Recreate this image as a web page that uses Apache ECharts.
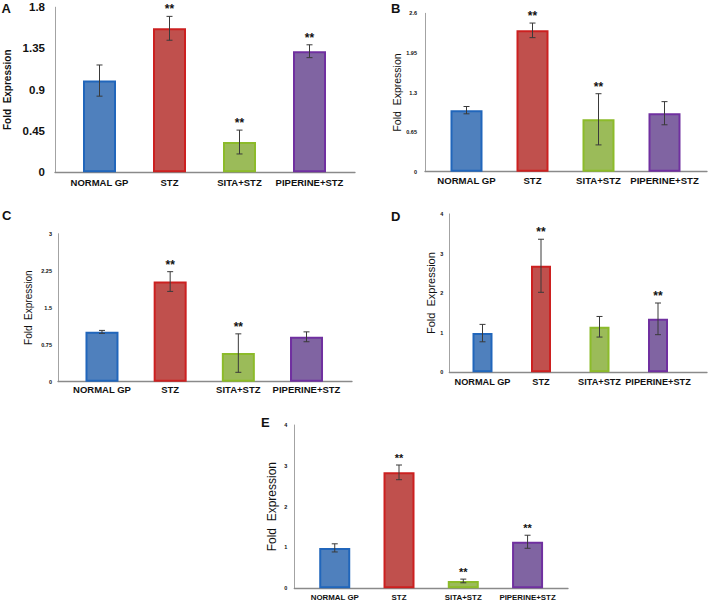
<!DOCTYPE html>
<html>
<head>
<meta charset="utf-8">
<script src="https://cdn.jsdelivr.net/npm/echarts/dist/echarts.min.js"></script>
<style>
html,body{margin:0;padding:0;background:#fff;}
#chart{width:708px;height:603px;}
</style>
</head>
<body>
<div id="chart"></div>
<script>
// ---------- DATA ----------
const categories = ['NORMAL GP', 'STZ', 'SITA+STZ', 'PIPERINE+STZ'];

const valuesA = [1.00, 1.57, 0.33, 1.32];
const errorsA = [0.17, 0.13, 0.13, 0.07];
const sigA = ['', '**', '**', '**'];
const ticksA = [0, 0.45, 0.9, 1.35, 1.8];

const valuesB = [1.01, 2.32, 0.86, 0.96];
const errorsB = [0.06, 0.12, 0.42, 0.19];
const sigB = ['', '**', '**', ''];
const ticksB = [0, 0.65, 1.3, 1.95, 2.6];

const valuesC = [1.01, 2.03, 0.58, 0.91];
const errorsC = [0.03, 0.20, 0.39, 0.10];
const sigC = ['', '**', '**', ''];
const ticksC = [0, 0.75, 1.5, 2.25, 3];

const valuesD = [0.99, 2.69, 1.15, 1.35];
const errorsD = [0.22, 0.67, 0.26, 0.40];
const sigD = ['', '**', '', '**'];
const ticksD = [0, 1, 2, 3, 4];

const valuesE = [0.99, 2.84, 0.18, 1.14];
const errorsE = [0.10, 0.18, 0.045, 0.16];
const sigE = ['', '**', '**', '**'];
const ticksE = [0, 1, 2, 3, 4];

const axisName = 'Fold  Expression';

// ---------- STYLE / LAYOUT ----------
const fills = ['#4f80bd', '#c0504d', '#9bbb59', '#8064a2'];
const borders = ['#2166bb', '#cc2020', '#8cbb2a', '#7030a0'];
const narrow = "'Liberation Sans Narrow', 'Liberation Sans', Arial, sans-serif";
const sans = "'Liberation Sans', Arial, sans-serif";

const panels = [
  { title: 'A', values: valuesA, errors: errorsA, sig: sigA, ticks: ticksA,
    t: [1.5, 1.5], outer: [55, 355, 7.2, 172.3], inner: [64.5, 280], barW: 33,
    tickFont: 11.5, tickMargin: 10, catFont: 9.5, catMargin: 5, nameFont: 10, nameW: 'bold', nameGap: 43, starFont: 12 },
  { title: 'B', values: valuesB, errors: errorsB, sig: sigB, ticks: ticksB,
    t: [391, 2], outer: [425, 707, 13.3, 171.7], inner: [433.5, 264], barW: 32,
    tickFont: 5.5, tickMargin: 8, catFont: 9.6, catMargin: 4, nameFont: 10.5, nameW: 'normal', nameGap: 23, starFont: 12 },
  { title: 'C', values: valuesC, errors: errorsC, sig: sigC, ticks: ticksC,
    t: [2, 209], outer: [58, 352, 233.7, 381.7], inner: [67.9, 272.7], barW: 33,
    tickFont: 5.5, tickMargin: 6, catFont: 9.5, catMargin: 2.5, nameFont: 10, nameW: 'normal', nameGap: 25, starFont: 12 },
  { title: 'D', values: valuesD, errors: errorsD, sig: sigD, ticks: ticksD,
    t: [391, 210], outer: [449.3, 707, 213.9, 372.3], inner: [453.25, 234], barW: 20,
    tickFont: 5.5, tickMargin: 6, catFont: 9.2, catMargin: 5, nameFont: 11, nameW: 'normal', nameGap: 12, starFont: 12 },
  { title: 'E', values: valuesE, errors: errorsE, sig: sigE, ticks: ticksE,
    t: [261, 416], outer: [294.3, 568, 425, 588.3], inner: [302.6, 257.1], barW: 31,
    tickFont: 5.5, tickMargin: 7, catFont: 7.9, catMargin: 5, nameFont: 12, nameW: 'normal', nameGap: 16, starFont: 11 }
];

const option = { animation: false, backgroundColor: '#fff', title: [], grid: [], xAxis: [], yAxis: [], series: [] };

panels.forEach((p, idx) => {
  const go = idx * 2, gi = idx * 2 + 1;
  const [ol, or, ot, ob] = p.outer;
  const ymin = p.ticks[0], ymax = p.ticks[p.ticks.length - 1];
  const step = p.ticks[1] - p.ticks[0];

  option.title.push({
    text: p.title, left: p.t[0], top: p.t[1], padding: 0,
    textStyle: { fontFamily: sans, fontWeight: 'bold', fontSize: 13, color: '#111' }
  });

  option.grid.push({ left: ol, top: ot, width: or - ol, height: ob - ot, containLabel: false });
  option.grid.push({ left: p.inner[0], top: ot, width: p.inner[1], height: ob - ot, containLabel: false });

  option.xAxis.push({
    gridIndex: go, type: 'value', min: 0, max: 1,
    axisLine: { show: true, onZero: false, lineStyle: { color: '#8a8a8a', width: 1.3 } },
    axisTick: { show: false }, axisLabel: { show: false }, splitLine: { show: false }
  });
  option.xAxis.push({
    gridIndex: gi, type: 'category', data: categories,
    axisLine: { show: false }, axisTick: { show: false }, splitLine: { show: false },
    axisLabel: { interval: 0, margin: p.catMargin, color: '#111', fontFamily: narrow, fontWeight: 'bold', fontSize: p.catFont }
  });

  option.yAxis.push({
    gridIndex: go, type: 'value', min: ymin, max: ymax, interval: step,
    name: axisName, nameLocation: 'middle', nameGap: p.nameGap,
    nameTextStyle: { fontFamily: sans, fontSize: p.nameFont, fontWeight: p.nameW, color: '#111' },
    axisLine: { show: true, lineStyle: { color: '#a3a3a3', width: 1 } },
    axisTick: { show: false }, splitLine: { show: false },
    axisLabel: { margin: p.tickMargin, color: '#111', fontFamily: sans, fontWeight: 'bold', fontSize: p.tickFont }
  });
  option.yAxis.push({ gridIndex: gi, type: 'value', min: ymin, max: ymax, show: false, splitLine: { show: false } });

  option.series.push({
    type: 'bar', xAxisIndex: gi, yAxisIndex: gi, barWidth: p.barW,
    data: p.values.map((v, k) => ({ value: v, itemStyle: { color: fills[k], borderColor: borders[k], borderWidth: 2 } })),
    z: 2
  });

  const sig = p.sig, sf = p.starFont;
  option.series.push({
    type: 'custom', xAxisIndex: gi, yAxisIndex: gi, z: 5,
    data: p.values.map((v, k) => [k, v, p.errors[k]]),
    renderItem: function (params, api) {
      const i = api.value(0), v = api.value(1), e = api.value(2);
      const top = api.coord([i, v + e]);
      const bot = api.coord([i, v - e]);
      const x = top[0], cap = 3;
      const ls = { stroke: '#3a3a3a', lineWidth: 1 };
      const children = [
        { type: 'line', shape: { x1: x, y1: top[1], x2: x, y2: bot[1] }, style: ls },
        { type: 'line', shape: { x1: x - cap, y1: top[1], x2: x + cap, y2: top[1] }, style: ls },
        { type: 'line', shape: { x1: x - cap, y1: bot[1], x2: x + cap, y2: bot[1] }, style: ls }
      ];
      const s = sig[params.dataIndex];
      if (s) {
        children.push({
          type: 'text',
          style: { text: s, x: x, y: top[1] - 7, align: 'center', verticalAlign: 'middle',
                   fontFamily: sans, fontWeight: 'bold', fontSize: sf, fill: '#111' }
        });
      }
      return { type: 'group', children: children };
    }
  });
});

const chart = echarts.init(document.getElementById('chart'), null, { renderer: 'svg' });
chart.setOption(option);
</script>
</body>
</html>
